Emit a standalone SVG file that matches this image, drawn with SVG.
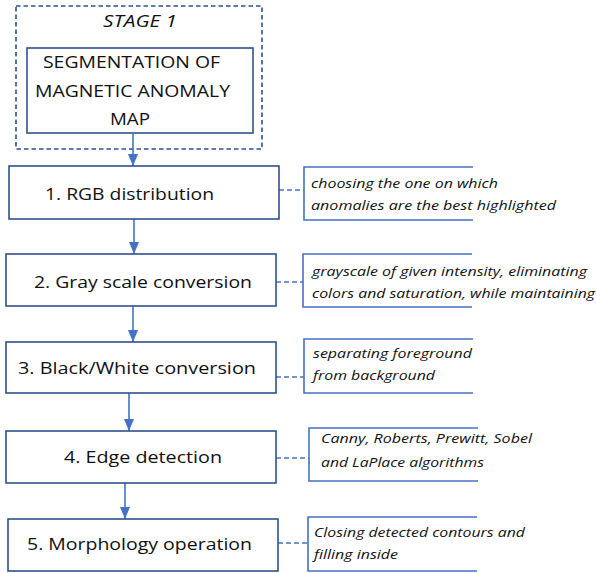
<svg xmlns="http://www.w3.org/2000/svg" width="596" height="573" viewBox="0 0 596 573">
<defs>
<style>
.box{fill:#fff;stroke:#2F528F;stroke-width:1.6}
.stage{fill:none;stroke:#2F528F;stroke-width:1.6;stroke-dasharray:4.5 3}
.t{font-family:"Open Sans","Liberation Sans",sans-serif;font-size:17px;fill:#111}
.it{font-family:"Open Sans","Liberation Sans",sans-serif;font-size:13px;font-style:italic;fill:#111}
.ar{stroke:#4472C4;stroke-width:1.6;fill:none;marker-end:url(#ah)}
.dc{stroke:#4472C4;stroke-width:1.4;fill:none;stroke-dasharray:5 3}
.br{stroke:#4472C4;stroke-width:1.6;fill:none}
</style>
<marker id="ah" viewBox="0 0 10 10" refX="10" refY="5" markerWidth="12" markerHeight="10" markerUnits="userSpaceOnUse" orient="auto" preserveAspectRatio="none">
<path d="M0,0 L10,5 L0,10 z" fill="#4472C4"/>
</marker>
</defs>
<g id="stage1">
<rect class="stage" x="16" y="6" width="246" height="143"/>
<text class="t" x="140" y="27" text-anchor="middle" font-style="italic" textLength="74" lengthAdjust="spacingAndGlyphs">STAGE 1</text>
<rect class="box" x="27" y="48" width="226" height="85"/>
<text class="t" x="43" y="68" textLength="177" lengthAdjust="spacingAndGlyphs">SEGMENTATION OF</text>
<text class="t" x="35" y="97" textLength="195" lengthAdjust="spacingAndGlyphs">MAGNETIC ANOMALY</text>
<text class="t" x="110" y="125" textLength="40" lengthAdjust="spacingAndGlyphs">MAP</text>
</g>
<g id="connectors">
<line class="ar" x1="133" y1="133" x2="133" y2="166"/>
<line class="ar" x1="134" y1="219" x2="134" y2="254"/>
<line class="ar" x1="133" y1="306" x2="133" y2="342"/>
<line class="ar" x1="129" y1="393" x2="129" y2="431"/>
<line class="ar" x1="125" y1="483" x2="125" y2="519"/>
<line class="dc" x1="279" y1="190" x2="304" y2="190"/>
<line class="dc" x1="276" y1="282" x2="303" y2="282"/>
<line class="dc" x1="276" y1="377" x2="304" y2="377"/>
<line class="dc" x1="276" y1="458" x2="309" y2="458"/>
<line class="dc" x1="278" y1="543" x2="308" y2="543"/>
</g>
<g id="step1">
<rect class="box" x="9" y="166" width="270" height="53"/>
<text class="t" x="45" y="200" textLength="169" lengthAdjust="spacingAndGlyphs">1. RGB distribution</text>
</g>
<g id="step2">
<rect class="box" x="6" y="254" width="270" height="52"/>
<text class="t" x="34" y="288" textLength="218" lengthAdjust="spacingAndGlyphs">2. Gray scale conversion</text>
</g>
<g id="step3">
<rect class="box" x="6" y="342" width="270" height="51"/>
<text class="t" x="18" y="374" textLength="238" lengthAdjust="spacingAndGlyphs">3. Black/White conversion</text>
</g>
<g id="step4">
<rect class="box" x="6" y="431" width="270" height="52"/>
<text class="t" x="64" y="463" textLength="158" lengthAdjust="spacingAndGlyphs">4. Edge detection</text>
</g>
<g id="step5">
<rect class="box" x="8" y="519" width="270" height="52"/>
<text class="t" x="27" y="550" textLength="225" lengthAdjust="spacingAndGlyphs">5. Morphology operation</text>
</g>
<g id="note1">
<path class="br" d="M473,167 H304 V220 H473"/>
<text class="it" x="311" y="188" textLength="187" lengthAdjust="spacingAndGlyphs">choosing the one on which</text>
<text class="it" x="311" y="210" textLength="245" lengthAdjust="spacingAndGlyphs">anomalies are the best highlighted</text>
</g>
<g id="note2">
<path class="br" d="M472,254 H303 V307 H472"/>
<text class="it" x="312" y="276" textLength="275" lengthAdjust="spacingAndGlyphs">grayscale of given intensity, eliminating</text>
<text class="it" x="312" y="298" textLength="283" lengthAdjust="spacingAndGlyphs">colors and saturation, while maintaining</text>
</g>
<g id="note3">
<path class="br" d="M473,339 H304 V393 H473"/>
<text class="it" x="313" y="358" textLength="159" lengthAdjust="spacingAndGlyphs">separating foreground</text>
<text class="it" x="313" y="380" textLength="122" lengthAdjust="spacingAndGlyphs">from background</text>
</g>
<g id="note4">
<path class="br" d="M478,428 H309 V481 H478"/>
<text class="it" x="321" y="443" textLength="211" lengthAdjust="spacingAndGlyphs">Canny, Roberts, Prewitt, Sobel</text>
<text class="it" x="321" y="467" textLength="163" lengthAdjust="spacingAndGlyphs">and LaPlace algorithms</text>
</g>
<g id="note5">
<path class="br" d="M477,517 H308 V571 H477"/>
<text class="it" x="314" y="537" textLength="211" lengthAdjust="spacingAndGlyphs">Closing detected contours and</text>
<text class="it" x="314" y="559" textLength="84" lengthAdjust="spacingAndGlyphs">filling inside</text>
</g>
</svg>
